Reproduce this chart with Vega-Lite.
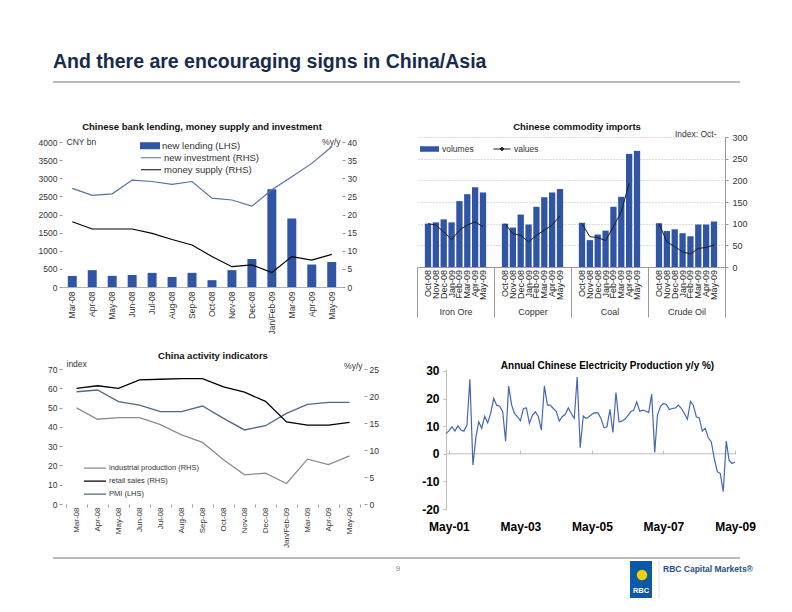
{
  "$schema": "https://vega.github.io/schema/vega-lite/v6.json",
  "background": "white",
  "padding": {"left": 38, "top": 51, "right": 5, "bottom": 5},
  "spacing": 9,
  "resolve": {"scale": {"fill": "independent", "stroke": "independent"}, "legend": {"fill": "independent", "stroke": "independent"}},
  "datasets": {
    "c1": [
      {"m": "Mar-08", "v": 305}, {"m": "Apr-08", "v": 465}, {"m": "May-08", "v": 308}, {"m": "Jun-08", "v": 331},
      {"m": "Jul-08", "v": 390}, {"m": "Aug-08", "v": 276}, {"m": "Sep-08", "v": 390}, {"m": "Oct-08", "v": 188},
      {"m": "Nov-08", "v": 465}, {"m": "Dec-08", "v": 772}, {"m": "Jan/Feb-09", "v": 2700}, {"m": "Mar-09", "v": 1890},
      {"m": "Apr-09", "v": 620}, {"m": "May-09", "v": 690}
    ],
    "c1l": [
      {"m": "Mar-08", "s": "new investment (RHS)", "v": 27.2}, {"m": "Apr-08", "s": "new investment (RHS)", "v": 25.3},
      {"m": "May-08", "s": "new investment (RHS)", "v": 25.7}, {"m": "Jun-08", "s": "new investment (RHS)", "v": 29.5},
      {"m": "Jul-08", "s": "new investment (RHS)", "v": 29.1}, {"m": "Aug-08", "s": "new investment (RHS)", "v": 28.3},
      {"m": "Sep-08", "s": "new investment (RHS)", "v": 29.1}, {"m": "Oct-08", "s": "new investment (RHS)", "v": 24.5},
      {"m": "Nov-08", "s": "new investment (RHS)", "v": 24.0}, {"m": "Dec-08", "s": "new investment (RHS)", "v": 22.3},
      {"m": "Jan/Feb-09", "s": "new investment (RHS)", "v": 26.8}, {"m": "Mar-09", "s": "new investment (RHS)", "v": 30.4},
      {"m": "Apr-09", "s": "new investment (RHS)", "v": 34.1}, {"m": "May-09", "s": "new investment (RHS)", "v": 38.7},
      {"m": "Mar-08", "s": "money supply (RHS)", "v": 18.0}, {"m": "Apr-08", "s": "money supply (RHS)", "v": 16.0},
      {"m": "May-08", "s": "money supply (RHS)", "v": 16.0}, {"m": "Jun-08", "s": "money supply (RHS)", "v": 16.0},
      {"m": "Jul-08", "s": "money supply (RHS)", "v": 14.8}, {"m": "Aug-08", "s": "money supply (RHS)", "v": 13.1},
      {"m": "Sep-08", "s": "money supply (RHS)", "v": 11.6}, {"m": "Oct-08", "s": "money supply (RHS)", "v": 8.4},
      {"m": "Nov-08", "s": "money supply (RHS)", "v": 5.6}, {"m": "Dec-08", "s": "money supply (RHS)", "v": 6.1},
      {"m": "Jan/Feb-09", "s": "money supply (RHS)", "v": 4.0}, {"m": "Mar-09", "s": "money supply (RHS)", "v": 8.4},
      {"m": "Apr-09", "s": "money supply (RHS)", "v": 7.4}, {"m": "May-09", "s": "money supply (RHS)", "v": 9.0}
    ],
    "c2": [
      {"c": "Iron Ore", "m": "Oct-08", "n": 1, "vol": 100, "val": 100}, {"c": "Iron Ore", "m": "Nov-08", "n": 2, "vol": 103, "val": 97},
      {"c": "Iron Ore", "m": "Dec-08", "n": 3, "vol": 110, "val": 81}, {"c": "Iron Ore", "m": "Jan-09", "n": 4, "vol": 103, "val": 63},
      {"c": "Iron Ore", "m": "Feb-09", "n": 5, "vol": 152, "val": 85}, {"c": "Iron Ore", "m": "Mar-09", "n": 6, "vol": 168, "val": 97},
      {"c": "Iron Ore", "m": "Apr-09", "n": 7, "vol": 184, "val": 104}, {"c": "Iron Ore", "m": "May-09", "n": 8, "vol": 172, "val": 93},
      {"c": "Copper", "m": "Oct-08", "n": 1, "vol": 100, "val": 100}, {"c": "Copper", "m": "Nov-08", "n": 2, "vol": 91, "val": 77},
      {"c": "Copper", "m": "Dec-08", "n": 3, "vol": 121, "val": 73}, {"c": "Copper", "m": "Jan-09", "n": 4, "vol": 98, "val": 58},
      {"c": "Copper", "m": "Feb-09", "n": 5, "vol": 139, "val": 73}, {"c": "Copper", "m": "Mar-09", "n": 6, "vol": 161, "val": 85},
      {"c": "Copper", "m": "Apr-09", "n": 7, "vol": 172, "val": 97}, {"c": "Copper", "m": "May-09", "n": 8, "vol": 180, "val": 118},
      {"c": "Coal", "m": "Oct-08", "n": 1, "vol": 102, "val": 100}, {"c": "Coal", "m": "Nov-08", "n": 2, "vol": 62, "val": 70},
      {"c": "Coal", "m": "Dec-08", "n": 3, "vol": 75, "val": 68}, {"c": "Coal", "m": "Jan-09", "n": 4, "vol": 84, "val": 61},
      {"c": "Coal", "m": "Feb-09", "n": 5, "vol": 139, "val": 93}, {"c": "Coal", "m": "Mar-09", "n": 6, "vol": 162, "val": 128},
      {"c": "Coal", "m": "Apr-09", "n": 7, "vol": 261, "val": 193}, {"c": "Coal", "m": "May-09", "n": 8, "vol": 268, "val": null},
      {"c": "Crude Oil", "m": "Oct-08", "n": 1, "vol": 101, "val": 100}, {"c": "Crude Oil", "m": "Nov-08", "n": 2, "vol": 83, "val": 58},
      {"c": "Crude Oil", "m": "Dec-08", "n": 3, "vol": 87, "val": 47}, {"c": "Crude Oil", "m": "Jan-09", "n": 4, "vol": 78, "val": 35},
      {"c": "Crude Oil", "m": "Feb-09", "n": 5, "vol": 71, "val": 30}, {"c": "Crude Oil", "m": "Mar-09", "n": 6, "vol": 98, "val": 43},
      {"c": "Crude Oil", "m": "Apr-09", "n": 7, "vol": 98, "val": 45}, {"c": "Crude Oil", "m": "May-09", "n": 8, "vol": 105, "val": 51}
    ],
    "c3": [
      {"m": "Mar-08", "s": "industrial production (RHS)", "v": 17.8}, {"m": "Apr-08", "s": "industrial production (RHS)", "v": 15.7},
      {"m": "May-08", "s": "industrial production (RHS)", "v": 16.0}, {"m": "Jun-08", "s": "industrial production (RHS)", "v": 16.0},
      {"m": "Jul-08", "s": "industrial production (RHS)", "v": 14.7}, {"m": "Aug-08", "s": "industrial production (RHS)", "v": 12.8},
      {"m": "Sep-08", "s": "industrial production (RHS)", "v": 11.4}, {"m": "Oct-08", "s": "industrial production (RHS)", "v": 8.2},
      {"m": "Nov-08", "s": "industrial production (RHS)", "v": 5.4}, {"m": "Dec-08", "s": "industrial production (RHS)", "v": 5.7},
      {"m": "Jan/Feb-09", "s": "industrial production (RHS)", "v": 3.8}, {"m": "Mar-09", "s": "industrial production (RHS)", "v": 8.3},
      {"m": "Apr-09", "s": "industrial production (RHS)", "v": 7.3}, {"m": "May-09", "s": "industrial production (RHS)", "v": 8.9},
      {"m": "Mar-08", "s": "retail sales (RHS)", "v": 21.4}, {"m": "Apr-08", "s": "retail sales (RHS)", "v": 21.9},
      {"m": "May-08", "s": "retail sales (RHS)", "v": 21.4}, {"m": "Jun-08", "s": "retail sales (RHS)", "v": 23.0},
      {"m": "Jul-08", "s": "retail sales (RHS)", "v": 23.1}, {"m": "Aug-08", "s": "retail sales (RHS)", "v": 23.2},
      {"m": "Sep-08", "s": "retail sales (RHS)", "v": 23.2}, {"m": "Oct-08", "s": "retail sales (RHS)", "v": 21.7},
      {"m": "Nov-08", "s": "retail sales (RHS)", "v": 20.7}, {"m": "Dec-08", "s": "retail sales (RHS)", "v": 19.0},
      {"m": "Jan/Feb-09", "s": "retail sales (RHS)", "v": 15.2}, {"m": "Mar-09", "s": "retail sales (RHS)", "v": 14.6},
      {"m": "Apr-09", "s": "retail sales (RHS)", "v": 14.6}, {"m": "May-09", "s": "retail sales (RHS)", "v": 15.1},
      {"m": "Mar-08", "s": "PMI (LHS)", "v": 58.2}, {"m": "Apr-08", "s": "PMI (LHS)", "v": 59.1},
      {"m": "May-08", "s": "PMI (LHS)", "v": 53.1}, {"m": "Jun-08", "s": "PMI (LHS)", "v": 51.3},
      {"m": "Jul-08", "s": "PMI (LHS)", "v": 47.9}, {"m": "Aug-08", "s": "PMI (LHS)", "v": 47.9},
      {"m": "Sep-08", "s": "PMI (LHS)", "v": 50.8}, {"m": "Oct-08", "s": "PMI (LHS)", "v": 44.4},
      {"m": "Nov-08", "s": "PMI (LHS)", "v": 38.4}, {"m": "Dec-08", "s": "PMI (LHS)", "v": 40.6},
      {"m": "Jan/Feb-09", "s": "PMI (LHS)", "v": 47.0}, {"m": "Mar-09", "s": "PMI (LHS)", "v": 51.7},
      {"m": "Apr-09", "s": "PMI (LHS)", "v": 52.7}, {"m": "May-09", "s": "PMI (LHS)", "v": 52.7}
    ],
    "c4": [
      {"d": "2001-04-01", "v": 7.3}, {"d": "2001-05-01", "v": 8.3}, {"d": "2001-06-01", "v": 9.8}, {"d": "2001-07-01", "v": 8.2},
      {"d": "2001-08-01", "v": 10.1}, {"d": "2001-09-01", "v": 8.6}, {"d": "2001-10-01", "v": 8.2}, {"d": "2001-11-01", "v": 10.4},
      {"d": "2001-12-01", "v": 27.0}, {"d": "2002-01-01", "v": -4.1}, {"d": "2002-02-01", "v": 6.1}, {"d": "2002-03-01", "v": 11.6},
      {"d": "2002-04-01", "v": 9.2}, {"d": "2002-05-01", "v": 13.6}, {"d": "2002-06-01", "v": 11.2}, {"d": "2002-07-01", "v": 14.6},
      {"d": "2002-08-01", "v": 20.0}, {"d": "2002-09-01", "v": 17.6}, {"d": "2002-10-01", "v": 17.2}, {"d": "2002-11-01", "v": 15.2},
      {"d": "2002-12-01", "v": 4.6}, {"d": "2003-01-01", "v": 24.5}, {"d": "2003-02-01", "v": 17.6}, {"d": "2003-03-01", "v": 14.6},
      {"d": "2003-04-01", "v": 13.4}, {"d": "2003-05-01", "v": 11.9}, {"d": "2003-06-01", "v": 16.4}, {"d": "2003-07-01", "v": 16.6},
      {"d": "2003-08-01", "v": 11.0}, {"d": "2003-09-01", "v": 14.0}, {"d": "2003-10-01", "v": 15.2}, {"d": "2003-11-01", "v": 13.4},
      {"d": "2003-12-01", "v": 8.6}, {"d": "2004-01-01", "v": 24.6}, {"d": "2004-02-01", "v": 17.6}, {"d": "2004-03-01", "v": 17.6},
      {"d": "2004-04-01", "v": 16.4}, {"d": "2004-05-01", "v": 15.4}, {"d": "2004-06-01", "v": 11.8}, {"d": "2004-07-01", "v": 13.4},
      {"d": "2004-08-01", "v": 14.3}, {"d": "2004-09-01", "v": 16.6}, {"d": "2004-10-01", "v": 14.6}, {"d": "2004-11-01", "v": 12.8},
      {"d": "2004-12-01", "v": 27.8}, {"d": "2005-01-01", "v": 2.2}, {"d": "2005-02-01", "v": 13.7}, {"d": "2005-03-01", "v": 12.8},
      {"d": "2005-04-01", "v": 13.4}, {"d": "2005-05-01", "v": 14.3}, {"d": "2005-06-01", "v": 14.9}, {"d": "2005-07-01", "v": 14.8},
      {"d": "2005-08-01", "v": 12.8}, {"d": "2005-09-01", "v": 9.4}, {"d": "2005-10-01", "v": 9.8}, {"d": "2005-11-01", "v": 16.1},
      {"d": "2005-12-01", "v": 7.7}, {"d": "2006-01-01", "v": 22.2}, {"d": "2006-02-01", "v": 11.6}, {"d": "2006-03-01", "v": 11.8},
      {"d": "2006-04-01", "v": 12.5}, {"d": "2006-05-01", "v": 13.7}, {"d": "2006-06-01", "v": 15.2}, {"d": "2006-07-01", "v": 15.8},
      {"d": "2006-08-01", "v": 18.8}, {"d": "2006-09-01", "v": 15.4}, {"d": "2006-10-01", "v": 15.8}, {"d": "2006-11-01", "v": 15.5},
      {"d": "2006-12-01", "v": 14.9}, {"d": "2007-01-01", "v": 21.6}, {"d": "2007-02-01", "v": 0.5}, {"d": "2007-03-01", "v": 14.0},
      {"d": "2007-04-01", "v": 17.2}, {"d": "2007-05-01", "v": 18.2}, {"d": "2007-06-01", "v": 17.8}, {"d": "2007-07-01", "v": 16.0},
      {"d": "2007-08-01", "v": 16.4}, {"d": "2007-09-01", "v": 16.6}, {"d": "2007-10-01", "v": 17.6}, {"d": "2007-11-01", "v": 16.4},
      {"d": "2007-12-01", "v": 14.6}, {"d": "2008-01-01", "v": 12.5}, {"d": "2008-02-01", "v": 19.0}, {"d": "2008-03-01", "v": 17.6},
      {"d": "2008-04-01", "v": 13.4}, {"d": "2008-05-01", "v": 13.0}, {"d": "2008-06-01", "v": 8.2}, {"d": "2008-07-01", "v": 9.2},
      {"d": "2008-08-01", "v": 5.8}, {"d": "2008-09-01", "v": 4.3}, {"d": "2008-10-01", "v": -1.7}, {"d": "2008-11-01", "v": -6.5},
      {"d": "2008-12-01", "v": -7.1}, {"d": "2009-01-01", "v": -13.7}, {"d": "2009-02-01", "v": 4.6}, {"d": "2009-03-01", "v": -2.3},
      {"d": "2009-04-01", "v": -3.5}, {"d": "2009-05-01", "v": -3.0}
    ]
  },
  "vconcat": [
    {
      "width": 678,
      "height": 30,
      "title": {"text": "And there are encouraging signs in China/Asia", "anchor": "start", "frame": "group", "dx": -9, "offset": 9, "fontSize": 19.5, "fontWeight": "bold", "color": "#172b4d"},
      "data": {"values": [{"a": 0}]},
      "mark": {"type": "rule", "color": "#a3a3a3", "strokeWidth": 1.5},
      "encoding": {
        "x": {"datum": -9, "type": "quantitative", "scale": {"domain": [0, 678], "nice": false, "zero": false}, "axis": null},
        "x2": {"datum": 678},
        "y": {"datum": 0, "type": "quantitative", "scale": {"domain": [0, 1], "reverse": true, "nice": false}, "axis": null}
      }
    },
    {
      "resolve": {"scale": {"fill": "independent", "stroke": "independent"}, "legend": {"fill": "independent", "stroke": "independent"}},
      "hconcat": [
        {
          "width": 280,
          "height": 150,
          "title": {"text": "Chinese bank lending, money supply and investment", "fontSize": 9.5, "offset": 6},
          "encoding": {
            "x": {"field": "m", "type": "nominal", "sort": null,
              "scale": {"domain": ["Mar-08", "Apr-08", "May-08", "Jun-08", "Jul-08", "Aug-08", "Sep-08", "Oct-08", "Nov-08", "Dec-08", "Jan/Feb-09", "Mar-09", "Apr-09", "May-09"], "paddingInner": 0.55, "paddingOuter": 0.29},
              "axis": {"title": null, "labelAngle": -90, "labelFontSize": 8.5, "ticks": false, "domain": true, "domainColor": "#b0b0b0", "labelPadding": 4}}
          },
          "layer": [
            {
              "data": {"name": "c1"},
              "mark": {"type": "bar"},
              "encoding": {
                "y": {"field": "v", "type": "quantitative", "scale": {"domain": [0, 4138], "nice": false},
                  "axis": {"values": [0, 500, 1000, 1500, 2000, 2500, 3000, 3500, 4000], "format": "d", "title": "CNY bn", "titleAngle": 0, "titleAlign": "left", "titleBaseline": "middle", "titleX": 4, "titleY": 4, "tickSize": 3, "labelPadding": 2, "domain": false}},
                "fill": {"datum": "new lending (LHS)", "scale": {"range": ["#3155a5"]},
                  "legend": {"orient": "none", "legendX": 78, "legendY": 3, "title": null, "symbolType": "M-1,-0.35H1V0.35H-1Z", "symbolSize": 400, "symbolStrokeWidth": 0, "labelFontSize": 9.5, "labelOffset": 2, "clipHeight": 11.5}}
              }
            },
            {
              "data": {"name": "c1l"},
              "mark": {"type": "line", "strokeWidth": 1.2},
              "encoding": {
                "y": {"field": "v", "type": "quantitative", "scale": {"domain": [0, 41.38], "nice": false},
                  "axis": {"orient": "right", "values": [0, 5, 10, 15, 20, 25, 30, 35, 40], "title": "%y/y", "titleAngle": 0, "titleAlign": "right", "titleBaseline": "middle", "titleX": -2, "titleY": 4, "tickSize": 3, "labelPadding": 2, "domain": false}},
                "stroke": {"field": "s", "type": "nominal", "scale": {"domain": ["new investment (RHS)", "money supply (RHS)"], "range": ["#56739f", "#000000"]},
                  "legend": {"orient": "none", "legendX": 78, "legendY": 15, "title": null, "symbolType": "stroke", "symbolSize": 400, "symbolStrokeWidth": 1.2, "labelFontSize": 9.5, "labelOffset": 2, "clipHeight": 11.5}}
              }
            }
          ],
          "resolve": {"scale": {"y": "independent"}}
        },
        {
          "width": 308,
          "height": 130,
          "title": {"text": "Chinese commodity imports", "fontSize": 9.5, "offset": -2, "dx": 6},
          "data": {"name": "c2"},
          "encoding": {
            "x": {"field": "c", "type": "nominal", "sort": null,
              "scale": {"domain": ["Iron Ore", "Copper", "Coal", "Crude Oil"], "paddingInner": 0, "paddingOuter": 0},
              "axis": {"title": null, "labelAngle": 0, "labelFontSize": 9, "labelBaseline": "top", "tickBand": "extent", "tickSize": 50, "tickColor": "#999", "labelPadding": -10, "domainColor": "#999"}},
            "xOffset": {"field": "m", "type": "nominal", "sort": null,
              "scale": {"domain": ["Oct-08", "Nov-08", "Dec-08", "Jan-09", "Feb-09", "Mar-09", "Apr-09", "May-09"], "paddingInner": 0.2, "paddingOuter": 1.19}}
          },
          "layer": [
            {
              "mark": {"type": "bar"},
              "encoding": {
                "y": {"field": "vol", "type": "quantitative", "scale": {"domain": [0, 300], "nice": false},
                  "axis": {"orient": "right", "values": [0, 50, 100, 150, 200, 250, 300], "title": "Index: Oct-", "titleAngle": 0, "titleAlign": "right", "titleBaseline": "middle", "titleX": -9, "titleY": -4, "tickSize": 3, "labelPadding": 4, "labelFontSize": 9, "domain": true, "domainColor": "#999", "grid": true, "gridDash": [1, 2], "gridColor": "#bbbbbb"}},
                "fill": {"datum": "volumes", "scale": {"range": ["#3155a5"]},
                  "legend": {"orient": "none", "legendX": 3, "legendY": 7, "title": null, "direction": "horizontal", "symbolType": "M-1,-0.3H1V0.3H-1Z", "symbolSize": 361, "symbolStrokeWidth": 0, "labelFontSize": 8.5, "labelOffset": 3, "clipHeight": 10}}
              }
            },
            {
              "mark": {"type": "line", "strokeWidth": 1},
              "encoding": {
                "y": {"field": "val", "type": "quantitative", "scale": {"domain": [0, 300], "nice": false},
                  "axis": {"orient": "right", "values": [0, 50, 100, 150, 200, 250, 300], "title": "Index: Oct-", "titleAngle": 0, "titleAlign": "right", "titleBaseline": "middle", "titleX": -9, "titleY": -4, "tickSize": 3, "labelPadding": 4, "labelFontSize": 9, "domain": true, "domainColor": "#999", "grid": true, "gridDash": [1, 2], "gridColor": "#bbbbbb"}},
                "detail": {"field": "c", "type": "nominal"},
                "order": {"field": "n", "type": "quantitative"},
                "stroke": {"datum": "values", "scale": {"range": ["#1a1a1a"]},
                  "legend": {"orient": "none", "legendX": 76, "legendY": 7, "title": null, "direction": "horizontal", "symbolType": "M-1,0H1M-0.22,0L0,-0.22L0.22,0L0,0.22Z", "symbolSize": 289, "symbolStrokeWidth": 1, "symbolFillColor": "#2a3f6e", "labelFontSize": 8.5, "labelOffset": 3, "clipHeight": 10}}
              }
            },
            {
              "mark": {"type": "text", "angle": 270, "align": "right", "baseline": "middle", "dx": -3, "fontSize": 9, "color": "#222"},
              "encoding": {
                "y": {"datum": 0, "type": "quantitative", "scale": {"domain": [0, 300], "nice": false},
                  "axis": {"orient": "right", "values": [0, 50, 100, 150, 200, 250, 300], "title": "Index: Oct-", "titleAngle": 0, "titleAlign": "right", "titleBaseline": "middle", "titleX": -9, "titleY": -4, "tickSize": 3, "labelPadding": 4, "labelFontSize": 9, "domain": true, "domainColor": "#999", "grid": true, "gridDash": [1, 2], "gridColor": "#bbbbbb"}},
                "text": {"field": "m", "type": "nominal"}
              }
            }
          ]
        }
      ],
      "spacing": 75,
      "bounds": "flush"
    },
    {
      "resolve": {"scale": {"fill": "independent", "stroke": "independent"}, "legend": {"fill": "independent", "stroke": "independent"}},
      "hconcat": [
        {
          "width": 302,
          "height": 135,
          "title": {"text": ["", "China activity indicators"], "lineHeight": 7, "fontSize": 9.5, "offset": -1},
          "data": {"name": "c3"},
          "encoding": {
            "x": {"field": "m", "type": "nominal", "sort": null,
              "scale": {"domain": ["Mar-08", "Apr-08", "May-08", "Jun-08", "Jul-08", "Aug-08", "Sep-08", "Oct-08", "Nov-08", "Dec-08", "Jan/Feb-09", "Mar-09", "Apr-09", "May-09"], "paddingInner": 0, "paddingOuter": 0.19},
              "axis": {"title": null, "labelAngle": -90, "labelFontSize": 8, "tickBand": "extent", "tickSize": 3, "domain": false, "labelPadding": 0}},
            "stroke": {"field": "s", "type": "nominal",
              "scale": {"domain": ["industrial production (RHS)", "retail sales (RHS)", "PMI (LHS)"], "range": ["#8c8c8c", "#000000", "#4e6a86"]},
              "legend": {"orient": "none", "legendX": 21, "legendY": 93, "title": null, "symbolType": "stroke", "symbolSize": 484, "symbolStrokeWidth": 1.2, "labelFontSize": 7.5, "labelOffset": 2, "clipHeight": 12.2}}
          },
          "layer": [
            {
              "transform": [{"filter": "datum.s == 'PMI (LHS)'"}],
              "mark": {"type": "line", "strokeWidth": 1.3},
              "encoding": {
                "y": {"field": "v", "type": "quantitative", "scale": {"domain": [0, 70], "nice": false},
                  "axis": {"values": [0, 10, 20, 30, 40, 50, 60, 70], "title": "index", "titleAngle": 0, "titleAlign": "left", "titleBaseline": "middle", "titleX": 4, "titleY": -6, "tickSize": 3, "labelPadding": 2, "domain": false}}
              }
            },
            {
              "transform": [{"filter": "datum.s != 'PMI (LHS)'"}],
              "mark": {"type": "line", "strokeWidth": 1.3},
              "encoding": {
                "y": {"field": "v", "type": "quantitative", "scale": {"domain": [0, 25], "nice": false},
                  "axis": {"orient": "right", "values": [0, 5, 10, 15, 20, 25], "title": "%y/y", "titleAngle": 0, "titleAlign": "right", "titleBaseline": "middle", "titleX": -2, "titleY": -4, "tickSize": 3, "labelPadding": 2, "domain": false}}
              }
            }
          ],
          "resolve": {"scale": {"y": "independent"}}
        },
        {
          "width": 289,
          "height": 140,
          "title": {"text": "Annual Chinese Electricity Production y/y %)", "fontSize": 10, "offset": -6, "dx": 17, "color": "#000"},
          "data": {"name": "c4"},
          "layer": [
            {
              "mark": {"type": "rule", "color": "#bfbfbf", "strokeWidth": 1},
              "encoding": {
                "x": {"aggregate": "min", "field": "d", "type": "temporal", "scale": {"type": "utc", "nice": false},
                  "axis": {"orient": "bottom", "offset": -55, "labels": false, "domain": false, "ticks": true, "tickSize": -4, "tickColor": "#bfbfbf", "title": null,
                    "values": [{"year": 2001, "month": 5, "date": 1, "utc": true}, {"year": 2003, "month": 5, "date": 1, "utc": true}, {"year": 2005, "month": 5, "date": 1, "utc": true}, {"year": 2007, "month": 5, "date": 1, "utc": true}, {"year": 2009, "month": 5, "date": 1, "utc": true}]}},
                "x2": {"aggregate": "max", "field": "d"},
                "y": {"datum": 0, "type": "quantitative", "scale": {"domain": [-20, 30.7], "nice": false},
                  "axis": {"values": [-20, -10, 0, 10, 20, 30], "labelExpr": "'' + datum.value", "title": null, "labelFontSize": 12, "labelFontWeight": "bold", "labelColor": "#000", "domain": true, "domainColor": "#bfbfbf", "tickColor": "#bfbfbf", "tickSize": 3, "labelPadding": 4}}
              }
            },
            {
              "mark": {"type": "line", "color": "#4468b0", "strokeWidth": 1.2},
              "encoding": {
                "x": {"field": "d", "type": "temporal", "scale": {"type": "utc", "nice": false},
                  "axis": {"orient": "bottom", "format": "%b-%y", "domain": false, "ticks": false, "labelFontSize": 12, "labelFontWeight": "bold", "labelColor": "#000", "labelPadding": 12, "title": null,
                    "values": [{"year": 2001, "month": 5, "date": 1, "utc": true}, {"year": 2003, "month": 5, "date": 1, "utc": true}, {"year": 2005, "month": 5, "date": 1, "utc": true}, {"year": 2007, "month": 5, "date": 1, "utc": true}, {"year": 2009, "month": 5, "date": 1, "utc": true}]}},
                "y": {"field": "v", "type": "quantitative", "scale": {"domain": [-20, 30.7], "nice": false},
                  "axis": {"values": [-20, -10, 0, 10, 20, 30], "labelExpr": "'' + datum.value", "title": null, "labelFontSize": 12, "labelFontWeight": "bold", "labelColor": "#000", "domain": true, "domainColor": "#bfbfbf", "tickColor": "#bfbfbf", "tickSize": 3, "labelPadding": 4}}
              }
            }
          ],
          "resolve": {"axis": {"x": "independent"}}
        }
      ],
      "spacing": 82,
      "bounds": "flush"
    },
    {
      "width": 678,
      "height": 45,
      "data": {"values": [{"a": 0}]},
      "layer": [
        {
          "mark": {"type": "rule", "color": "#a3a3a3", "strokeWidth": 1.5},
          "encoding": {
            "x": {"datum": -9, "type": "quantitative", "scale": {"domain": [0, 678], "nice": false, "zero": false}, "axis": null},
            "x2": {"datum": 678},
            "y": {"datum": 0, "type": "quantitative", "scale": {"domain": [0, 45], "reverse": true, "nice": false, "zero": false}, "axis": null}
          }
        },
        {
          "mark": {"type": "text", "fontSize": 8, "color": "#888888", "align": "center", "baseline": "middle"},
          "encoding": {"x": {"datum": 336, "type": "quantitative"}, "y": {"datum": 11, "type": "quantitative"}, "text": {"value": "9"}}
        },
        {
          "mark": {"type": "rect", "color": "#0a5aa8"},
          "encoding": {"x": {"datum": 568, "type": "quantitative"}, "x2": {"datum": 590}, "y": {"datum": 3, "type": "quantitative"}, "y2": {"datum": 40}}
        },
        {
          "mark": {"type": "circle", "color": "#f2cf00", "size": 110, "opacity": 1},
          "encoding": {"x": {"datum": 580, "type": "quantitative"}, "y": {"datum": 17, "type": "quantitative"}}
        },
        {
          "mark": {"type": "text", "fontSize": 7.5, "fontWeight": "bold", "color": "white", "align": "center", "baseline": "middle"},
          "encoding": {"x": {"datum": 579, "type": "quantitative"}, "y": {"datum": 33, "type": "quantitative"}, "text": {"value": "RBC"}}
        },
        {
          "mark": {"type": "rule", "color": "#e2e2e2", "strokeWidth": 1},
          "encoding": {"x": {"datum": 597, "type": "quantitative"}, "y": {"datum": 2, "type": "quantitative"}, "y2": {"datum": 40}}
        },
        {
          "mark": {"type": "text", "fontSize": 8.5, "fontWeight": "bold", "color": "#1d4e8f", "align": "left", "baseline": "middle"},
          "encoding": {"x": {"datum": 601, "type": "quantitative"}, "y": {"datum": 11, "type": "quantitative"}, "text": {"value": "RBC Capital Markets®"}}
        }
      ]
    }
  ],
  "config": {
    "view": {"stroke": null},
    "font": "Liberation Sans",
    "axis": {"labelFont": "Liberation Sans", "titleFont": "Liberation Sans", "labelColor": "#333333", "tickColor": "#999999", "domainColor": "#999999", "grid": false, "titleFontWeight": "normal", "titleColor": "#333333", "labelFontSize": 8.5, "titleFontSize": 8.5, "labelFlush": false, "labelOverlap": false},
    "legend": {"labelFont": "Liberation Sans", "labelColor": "#333333", "padding": 0, "rowPadding": 0, "columnPadding": 10},
    "title": {"font": "Liberation Sans", "color": "#111111", "fontWeight": "bold"}
  }
}
